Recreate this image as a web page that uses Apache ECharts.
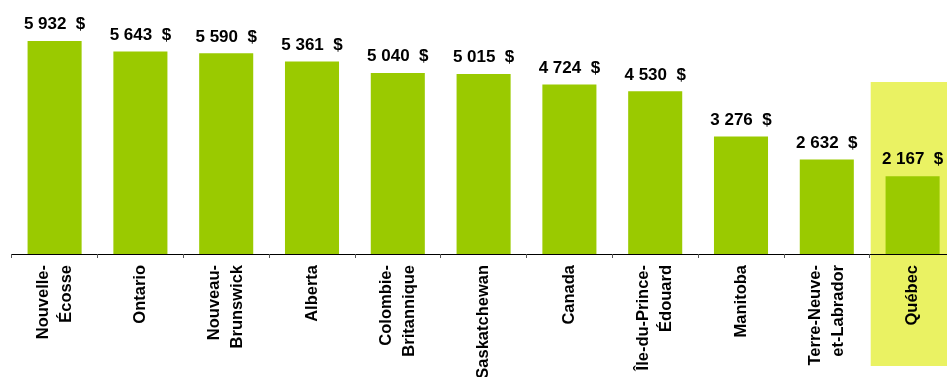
<!DOCTYPE html>
<html>
<head>
<meta charset="utf-8">
<script src="https://cdn.jsdelivr.net/npm/echarts@6/dist/echarts.min.js"></script>
<style>
  html, body { margin: 0; padding: 0; background: #ffffff; }
  #chart { width: 947px; height: 377px; }
</style>
</head>
<body>
<div id="chart"></div>
<script>
  // provinces, sorted as in the source picture
  const provinces = [
    'Nouvelle-\nÉcosse', 'Ontario', 'Nouveau-\nBrunswick', 'Alberta', 'Colombie-\nBritannique',
    'Saskatchewan', 'Canada', 'Île-du-Prince-\nÉdouard', 'Manitoba', 'Terre-Neuve-\net-Labrador', 'Québec'
  ]
  const amounts = [5932, 5643, 5590, 5361, 5040, 5015, 4724, 4530, 3276, 2632, 2167]
  const highlighted = 'Québec'

  const font = 'Liberation Sans, Arial, sans-serif'

  function fmt(v) {
    return String(v).replace(/\B(?=(\d{3})+(?!\d))/g, ' ') + '  $'
  }

  const el = document.getElementById('chart')
  const chart = echarts.init(el, null, { renderer: 'canvas' })

  chart.setOption({
    animation: false,
    backgroundColor: '#ffffff',
    grid: {
      left: 11.7, width: 943.8, top: 38.6, height: 215.4,
      containLabel: false, outerBoundsMode: 'none'
    },
    xAxis: {
      type: 'category',
      data: provinces,
      axisLine: { lineStyle: { color: '#000000', width: 1.2 } },
      axisTick: { show: true, length: 4, lineStyle: { color: '#555555' } },
      axisLabel: {
        rotate: 90,
        interval: 0,
        margin: 11,
        fontFamily: font,
        fontWeight: 'bold',
        fontSize: 16.5,
        lineHeight: 23,
        color: '#000000'
      }
    },
    yAxis: {
      type: 'value',
      min: 0,
      max: 6000,
      show: false
    },
    series: [{
      type: 'bar',
      data: amounts,
      barWidth: '63%',
      itemStyle: { color: '#9aca00' },
      label: {
        show: true,
        position: 'top',
        distance: 8,
        fontFamily: font,
        fontWeight: 'bold',
        fontSize: 17,
        color: '#000000',
        formatter: (p) => fmt(p.value)
      },
      z: 3
    }]
  })

  // pale band behind the highlighted province
  const idx = provinces.indexOf(highlighted)
  const c = chart.convertToPixel({ xAxisIndex: 0 }, idx)
  const c0 = chart.convertToPixel({ xAxisIndex: 0 }, idx - 1)
  const band = c - c0
  chart.setOption({
    graphic: [{
      type: 'rect',
      z: -10,
      silent: true,
      shape: { x: c - band / 2 + 1, y: 82, width: band, height: 284 },
      style: { fill: '#eaf263' }
    }]
  })
</script>
</body>
</html>
